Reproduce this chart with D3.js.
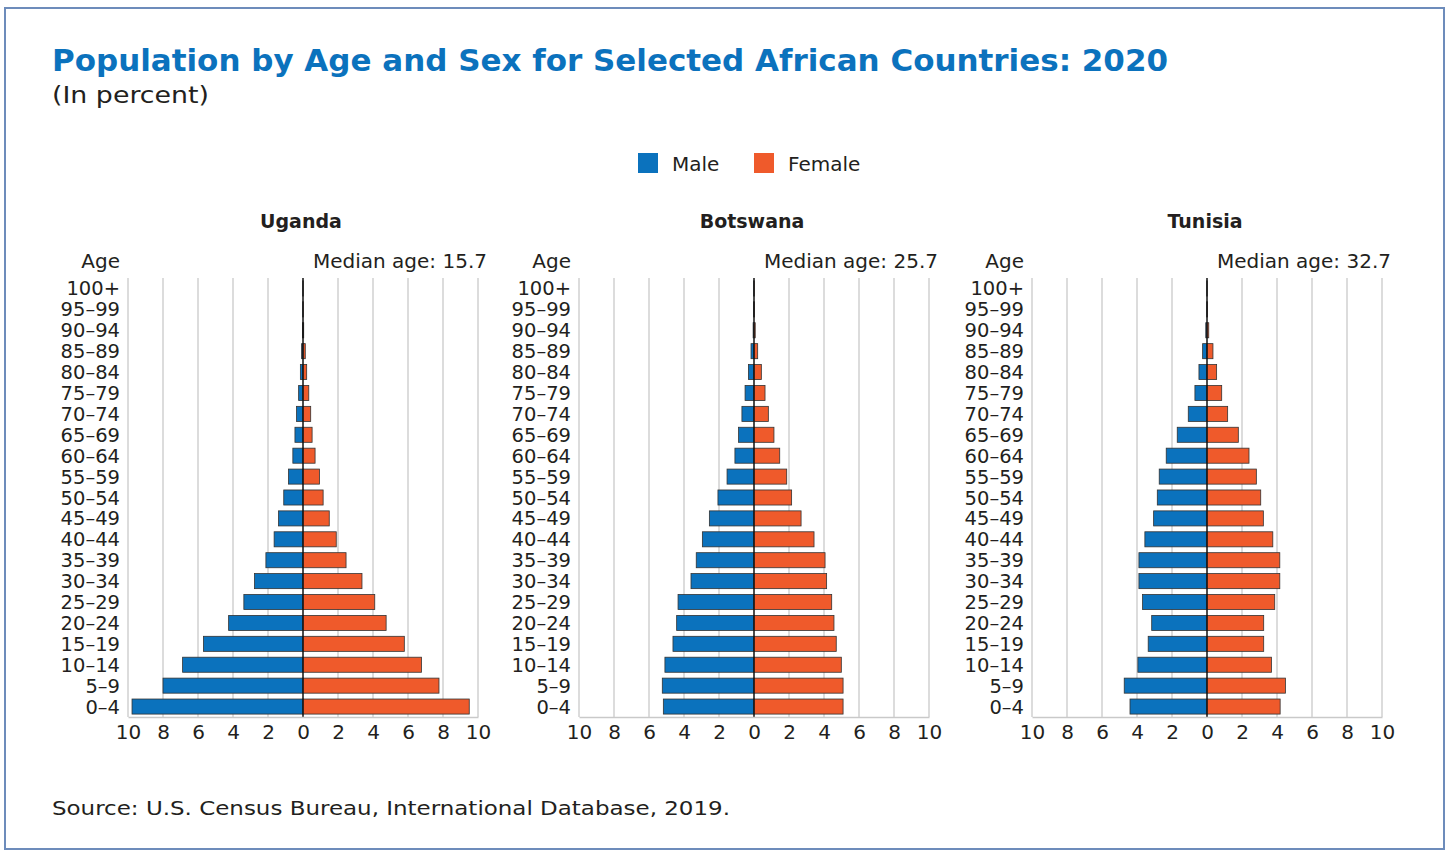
<!DOCTYPE html>
<meta charset="utf-8">
<style>
body{
	margin:0;
	background:#fff;
	font-family:"DejaVu Sans", sans-serif;
}
</style>
<script src="https://cdn.jsdelivr.net/npm/d3@7"></script>
<svg id="chart" width="1454" height="854"></svg>

<script>

// age groups, bottom to top
var ages = ["0–4","5–9","10–14","15–19","20–24","25–29","30–34","35–39","40–44","45–49","50–54","55–59","60–64","65–69","70–74","75–79","80–84","85–89","90–94","95–99","100+"]

var countries = ["Uganda","Botswana","Tunisia"]
var medians = ["15.7","25.7","32.7"]

var ugandaMale   = [9.77,8.0,6.88,5.69,4.25,3.38,2.77,2.12,1.65,1.4,1.1,0.83,0.58,0.46,0.37,0.25,0.15,0.08,0.03,0.01,0.005]
var ugandaFemale = [9.5,7.77,6.77,5.79,4.75,4.1,3.37,2.46,1.9,1.5,1.15,0.94,0.69,0.52,0.44,0.33,0.21,0.13,0.04,0.01,0.005]
var botswanaMale   = [5.18,5.24,5.09,4.63,4.42,4.34,3.6,3.3,2.95,2.55,2.06,1.54,1.09,0.88,0.69,0.51,0.32,0.17,0.05,0.02,0.01]
var botswanaFemale = [5.09,5.09,4.99,4.7,4.57,4.44,4.15,4.06,3.43,2.69,2.15,1.87,1.47,1.14,0.82,0.63,0.42,0.21,0.07,0.02,0.01]
var tunisiaMale   = [4.4,4.73,3.95,3.36,3.16,3.68,3.89,3.89,3.55,3.05,2.84,2.73,2.33,1.7,1.07,0.69,0.46,0.25,0.07,0.01,0.005]
var tunisiaFemale = [4.18,4.48,3.68,3.24,3.24,3.87,4.16,4.16,3.76,3.22,3.07,2.82,2.4,1.79,1.18,0.84,0.55,0.34,0.1,0.02,0.005]

var maleSeries = [ugandaMale, botswanaMale, tunisiaMale]
var femaleSeries = [ugandaFemale, botswanaFemale, tunisiaFemale]
var ticks = [-10,-8,-6,-4,-2,0,2,4,6,8,10]

var maleColor = "#0b72bd"
var femaleColor = "#ef5a2b"
var textColor = "#231f20"

var svg = d3.select("#chart")

// frame
svg.append("rect").attr("x",5).attr("y",8).attr("width",1439).attr("height",841)
	.attr("fill","none").attr("stroke","#6d8cbb").attr("stroke-width",2)

svg.append("text").attr("x",52).attr("y",71)
	.attr("font-size",30).attr("font-weight","bold").attr("fill","#0b72bd")
	.attr("textLength",1116).attr("lengthAdjust","spacingAndGlyphs")
	.text("Population by Age and Sex for Selected African Countries: 2020")
svg.append("text").attr("x",52).attr("y",103)
	.attr("font-size",23).attr("fill",textColor)
	.attr("textLength",157).attr("lengthAdjust","spacingAndGlyphs")
	.text("(In percent)")

// legend
var legend = [["Male",maleColor,638],["Female",femaleColor,754]]
legend.forEach(function(l){
	svg.append("rect").attr("x",l[2]).attr("y",153).attr("width",20).attr("height",20).attr("fill",l[1])
	svg.append("text").attr("x",l[2]+34).attr("y",171).attr("font-size",20).attr("fill",textColor).text(l[0])
})

var y = d3.scaleBand().domain(ages.slice().reverse()).range([278,717]).paddingInner(0.28).paddingOuter(0.14)

var panelLeft = [128,579,1032]

countries.forEach(function(name,i){
	var x0 = panelLeft[i]
	var x = d3.scaleLinear().domain([-10,10]).range([x0,x0+350])
	var g = svg.append("g")

	g.append("text").attr("x",x(0)-2).attr("y",228).attr("text-anchor","middle")
		.attr("font-size",19).attr("font-weight","bold").attr("fill",textColor).text(name)
	g.append("text").attr("x",x0-8).attr("y",268).attr("text-anchor","end")
		.attr("font-size",20).attr("fill",textColor).text("Age")
	g.append("text").attr("x",x(10)+9).attr("y",268).attr("text-anchor","end")
		.attr("font-size",20).attr("fill",textColor).text("Median age: "+medians[i])

	// grid
	g.selectAll(".grid").data(ticks).enter().append("line")
		.attr("x1",function(d){return x(d)}).attr("x2",function(d){return x(d)})
		.attr("y1",278).attr("y2",717)
		.attr("stroke","#c9c9c9").attr("stroke-width",1.3)

	// age labels
	g.selectAll(".age").data(ages).enter().append("text")
		.attr("x",x0-8).attr("y",function(d){return y(d)+y.bandwidth()/2})
		.attr("dy","0.36em").attr("text-anchor","end")
		.attr("font-size",19.5).attr("fill",textColor)
		.text(function(d){return d})

	var rows = ages.map(function(a,k){return {age:a, m:maleSeries[i][k], f:femaleSeries[i][k]}})

	g.selectAll(".male").data(rows).enter().append("rect")
		.attr("x",function(d){return x(-d.m)})
		.attr("y",function(d){return y(d.age)})
		.attr("width",function(d){return x(0)-x(-d.m)})
		.attr("height",y.bandwidth())
		.attr("fill",maleColor).attr("stroke","#333").attr("stroke-width",0.8)

	g.selectAll(".female").data(rows).enter().append("rect")
		.attr("x",x(0))
		.attr("y",function(d){return y(d.age)})
		.attr("width",function(d){return x(d.f)-x(0)})
		.attr("height",y.bandwidth())
		.attr("fill",femaleColor).attr("stroke","#333").attr("stroke-width",0.8)

	// centre line
	g.append("line").attr("x1",x(0)).attr("x2",x(0)).attr("y1",278).attr("y2",717)
		.attr("stroke","#111").attr("stroke-width",1.4)

	// x axis
	var axis = d3.axisBottom(x).tickValues(ticks).tickSize(0).tickPadding(8)
		.tickFormat(function(d){return Math.abs(d)})
	var ax = g.append("g").attr("transform","translate(0,717)").call(axis)
	ax.select(".domain").attr("stroke","#c9c9c9").attr("stroke-width",1.5)
	ax.selectAll("text").attr("font-size",20).attr("font-family","'DejaVu Sans', sans-serif").attr("fill",textColor)
})

svg.append("text").attr("x",52).attr("y",815)
	.attr("font-size",20).attr("fill",textColor)
	.attr("textLength",678).attr("lengthAdjust","spacingAndGlyphs")
	.text("Source: U.S. Census Bureau, International Database, 2019.")

</script>
